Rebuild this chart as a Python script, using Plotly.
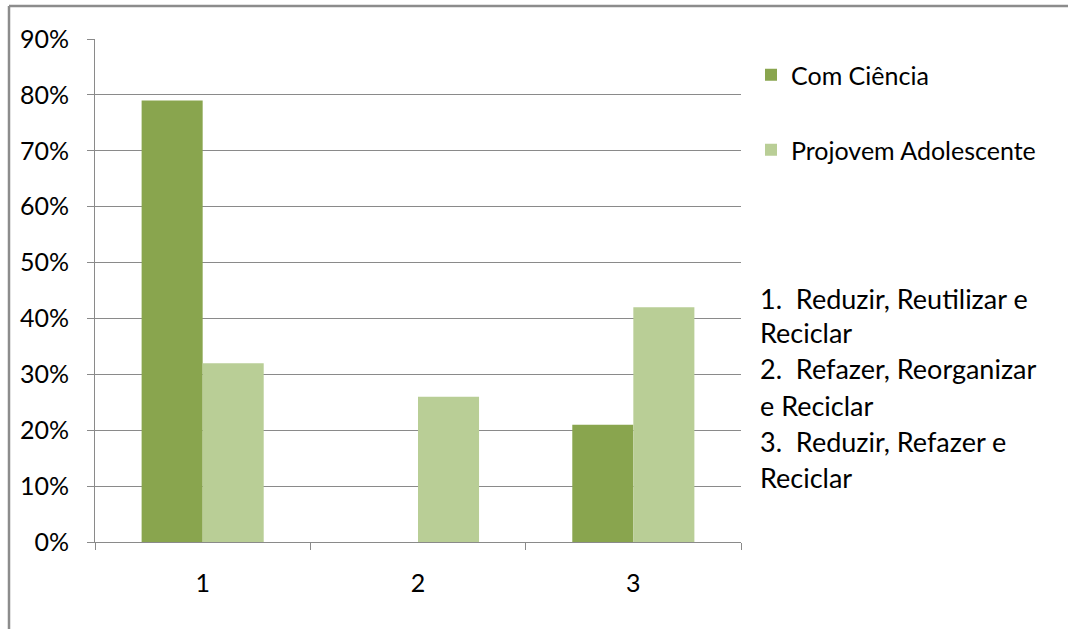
import plotly.graph_objects as go

categories = ["1", "2", "3"]
com_ciencia = [0.79, 0.0, 0.21]
projovem = [0.32, 0.26, 0.42]
y_ticks = [0, 0.1, 0.2, 0.3, 0.4, 0.5, 0.6, 0.7, 0.8, 0.9]

notes = [
    "1.\u00a0\u00a0Reduzir, Reutilizar e",
    "Reciclar",
    "2.\u00a0\u00a0Refazer, Reorganizar",
    "e Reciclar",
    "3.\u00a0\u00a0Reduzir, Refazer e",
    "Reciclar",
]

W, H = 1068, 629
L, R, T, B = 95, 741, 39, 542  # plot area in pixels


def px(x):
    return (x - L) / (R - L)


def py(y):
    return (B - y) / (B - T)


FONT = "Lato, Calibri, sans-serif"
GRID = "#8a8a8a"

fig = go.Figure()
fig.add_trace(go.Bar(name="Com Ciência", x=categories, y=com_ciencia,
                     marker=dict(color="#89A54E", line=dict(width=0)),
                     legend="legend", showlegend=True))
fig.add_trace(go.Bar(name="Projovem Adolescente", x=categories, y=projovem,
                     marker=dict(color="#B9CE96", line=dict(width=0)),
                     legend="legend2", showlegend=True))

legend_common = dict(font=dict(family=FONT, size=25, color="#000"),
                     bgcolor="rgba(0,0,0,0)", borderwidth=0, visible=True,
                     xref="paper", yref="paper", xanchor="left", yanchor="middle")

fig.update_layout(
    width=W, height=H,
    margin=dict(l=L, r=W - R, t=T, b=H - B),
    paper_bgcolor="white", plot_bgcolor="white",
    showlegend=True,
    barmode="group", bargap=0.433, bargroupgap=0,
    font=dict(family=FONT, size=25, color="#000"),
    legend=dict(x=px(751), y=py(75), **legend_common),
    legend2=dict(x=px(751), y=py(150), **legend_common),
    xaxis=dict(
        type="category", showgrid=False,
        showline=True, linecolor=GRID, linewidth=1,
        ticks="outside", tickson="boundaries", ticklen=7, tickcolor=GRID,
        ticklabelstandoff=19,
        tickfont=dict(family=FONT, size=25, color="#000"),
    ),
    yaxis=dict(
        range=[0, 0.9], tickvals=y_ticks, tickformat=".0%",
        showgrid=True, gridcolor=GRID, gridwidth=1,
        showline=True, linecolor=GRID, linewidth=1,
        ticks="outside", ticklen=7, tickcolor=GRID,
        ticklabelstandoff=13, zeroline=False,
        tickfont=dict(family=FONT, size=25, color="#000"),
    ),
)

# note lines on the right
note_y = [298, 332, 369, 405, 441, 477]
for text, yy in zip(notes, note_y):
    fig.add_annotation(text=text, xref="paper", yref="paper",
                       x=px(758), y=py(yy), xanchor="left", yanchor="middle",
                       showarrow=False, align="left",
                       font=dict(family=FONT, size=27, color="#000"))

# outer frame (top and left edges)
fig.add_shape(type="line", xref="paper", yref="paper",
              x0=px(9), y0=py(6), x1=px(W + 5), y1=py(6),
              line=dict(color="#8c8c8c", width=2.5))
fig.add_shape(type="line", xref="paper", yref="paper",
              x0=px(9), y0=py(6), x1=px(9), y1=py(H + 5),
              line=dict(color="#8c8c8c", width=2.5))

fig.write_html("out.html")
